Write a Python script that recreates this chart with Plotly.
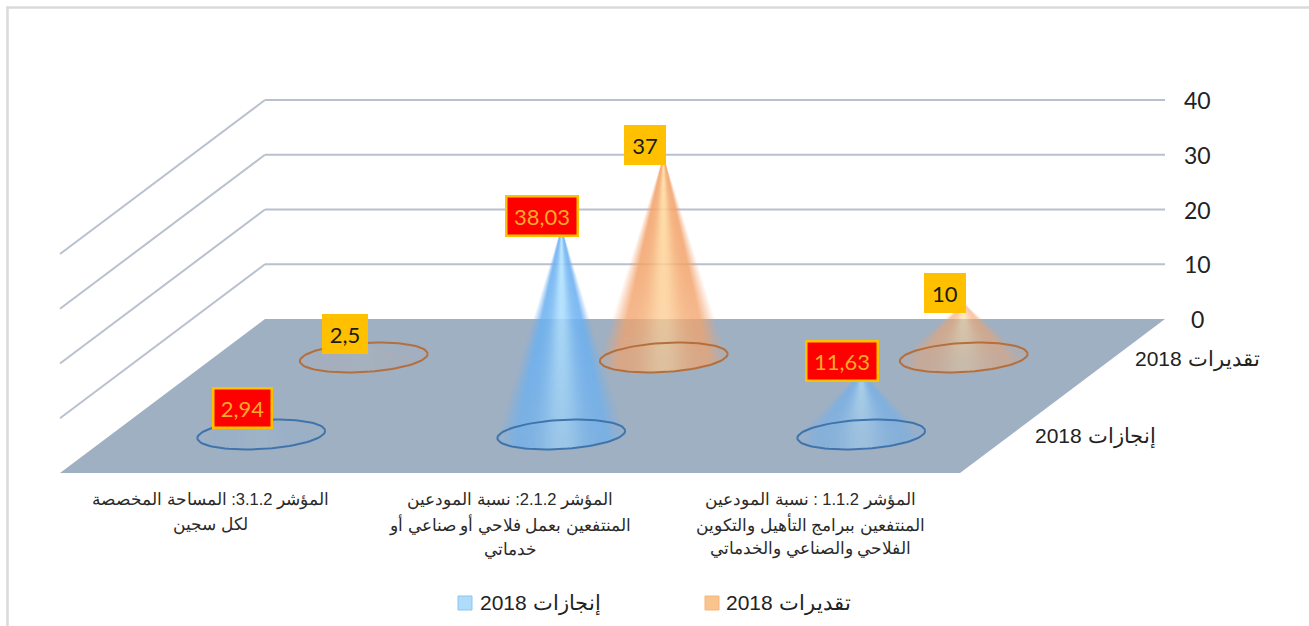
import numpy as np
import plotly.graph_objects as go

# ---------- data ----------
categories = [
    ["المؤشر 3.1.2: المساحة المخصصة", "لكل سجين"],
    ["المؤشر 2.1.2: نسبة المودعين", "المنتفعين بعمل فلاحي أو صناعي أو", "خدماتي"],
    ["المؤشر 1.1.2 : نسبة المودعين", "المنتفعين ببرامج التأهيل والتكوين", "الفلاحي والصناعي والخدماتي"],
]
series_names = ["إنجازات 2018", "تقديرات 2018"]
achieved_2018 = [2.94, 38.03, 11.63]
estimates_2018 = [2.5, 37, 10]
achieved_labels = ["2,94", "38,03", "11,63"]
estimates_labels = ["2,5", "37", "10"]
value_ticks = [0, 10, 20, 30, 40]

# ---------- 3D chart projection (category, depth, value) -> plot coordinates ----------
W, H = 1309, 626
ORIGIN = (60.0, 473.0)
CAT_W = 300.0
DEPTH = (205.0, -154.0)
VAL_PX = 5.475


def proj(c, d, v=0.0):
    return ORIGIN[0] + CAT_W * c + DEPTH[0] * d, ORIGIN[1] + DEPTH[1] * d - VAL_PX * v


ncat = len(categories)
nser = len(series_names)

shapes = []


def line_shape(p, q):
    shapes.append(dict(type="line", layer="below", x0=p[0], y0=p[1], x1=q[0], y1=q[1],
                       line=dict(color="#B9C1CE", width=2)))


# page frame
shapes.append(dict(type="path", layer="below", path=f"M7.5,{H} L7.5,7.5 L{W},7.5",
                   line=dict(color="#DADADA", width=2.5)))
# wall gridlines
for t in value_ticks[1:]:
    a, b, c = proj(0, 0, t), proj(0, 1, t), proj(ncat, 1, t)
    line_shape(a, b)
    line_shape(b, c)
# floor
pts = [proj(0, 0), proj(ncat, 0), proj(ncat, 1), proj(0, 1)]
shapes.append(dict(type="path", layer="below",
                   path="M" + " L".join(f"{x},{y}" for x, y in pts) + " Z",
                   fillcolor="#9FB0C3", line=dict(width=0)))

fig = go.Figure()

STYLES = [
    dict(edge=(108, 176, 240), mid=(180, 228, 255), line="#3F74AC", swatch="#AEDCFA", swline="#8FC4EC"),
    dict(edge=(242, 162, 106), mid=(255, 220, 160), line="#B56F3C", swatch="#F9C48E", swline="#F3B57A"),
]
ELL_A, ELL_B, TILT = 64.0, 14.5, np.deg2rad(-3.4)


def cone_rgba(value, st):
    """RGBA raster for a cone whose height comes from its value."""
    h = VAL_PX * value
    top = int(np.floor(-h)) - 1
    bottom = int(ELL_B) + 5
    xs = np.arange(-int(ELL_A) - 3, int(ELL_A) + 4)
    ys = np.arange(top, bottom + 1)
    X, Y = np.meshgrid(xs, ys)
    tt = np.clip((Y + h) / h, 1e-3, 1.0)
    half = ELL_A * tt
    r = np.abs(X) / half
    # cross section: bright centre, darker flanks, soft silhouette
    sil = np.clip((1.0 - r) / 0.30, 0, 1)
    mix = (np.exp(-(r / 0.32) ** 2) * (1 - 0.35 * tt))[..., None]
    rgb = np.array(st["edge"]) * (1 - mix) + np.array(st["mid"]) * mix
    strength = 0.88 * (value / 38.0) ** 0.3 * min(1.0, value / 10.0)
    fade = 1.0 - 0.22 * tt ** 3
    # lower rim: keep only what lies inside the base ellipse
    xr = X * np.cos(TILT) + Y * np.sin(TILT)
    yr = -X * np.sin(TILT) + Y * np.cos(TILT)
    ell = (xr / ELL_A) ** 2 + (yr / ELL_B) ** 2
    inside = ell <= 1.0
    below_axis = Y > 0
    shape = np.where(inside, np.maximum(sil, 0.30), sil)
    shape = np.where(below_axis & ~inside, 0.0, shape)
    alpha = strength * fade * shape
    out = np.dstack([rgb, alpha]).astype(float)
    return out, int(xs[0]), int(ys[0])


LABEL_W = {2: 27, 3: 31, 4: 46, 5: 59}


def add_series(values, labels, s_idx, name):
    st = STYLES[s_idx]
    depth = (s_idx + 0.5) / nser
    for i, v in enumerate(values):
        cx, cy = proj(i + 0.5, depth)
        rgba, dx0, dy0 = cone_rgba(v, st)
        fig.add_trace(go.Image(z=rgba, colormodel="rgba", x0=cx + dx0, y0=cy + dy0, dx=1, dy=1,
                               hoverinfo="skip", name=name))
        th = np.linspace(0, 2 * np.pi, 90)
        ex = ELL_A * np.cos(th)
        ey = ELL_B * np.sin(th)
        fig.add_trace(go.Scatter(
            x=cx + ex * np.cos(TILT) - ey * np.sin(TILT),
            y=cy + ex * np.sin(TILT) + ey * np.cos(TILT),
            mode="lines", line=dict(color=st["line"], width=2), hoverinfo="skip",
            showlegend=False, name=name))
        tx, ty = proj(i + 0.5, depth, v)
        is_ach = s_idx == 0
        fig.add_annotation(
            x=tx - 19, y=ty - 10, text=labels[i], showarrow=False,
            width=LABEL_W[len(labels[i])], height=27 if is_ach else 25,
            font=dict(family="Lato", size=22, color="#FFA928" if is_ach else "#1A1A1A"),
            bgcolor="#FF0000" if is_ach else "#FFC000",
            bordercolor="#FFC000", borderwidth=2.5, borderpad=5,
        )


add_series(estimates_2018, estimates_labels, 1, series_names[1])
add_series(achieved_2018, achieved_labels, 0, series_names[0])

# value axis labels
for t in value_ticks:
    x, y = proj(ncat, 1, t)
    fig.add_annotation(x=x + 32, y=y, text=str(t), showarrow=False,
                       font=dict(family="Lato", size=23, color="#222222"))

# depth axis labels
for s, name in enumerate(series_names):
    x, y = proj(ncat, (s + 0.5) / nser)
    fig.add_annotation(x=x + 84, y=y + 2, text=name, showarrow=False,
                       font=dict(family="Liberation Sans", size=21, color="#222222"))

# category labels
for i, lines in enumerate(categories):
    x, y = proj(i + 0.5, 0)
    for k, ln in enumerate(lines):
        fig.add_annotation(x=x, y=y + 27 + 24.5 * k, text=ln, showarrow=False,
                           font=dict(family="Liberation Sans", size=16.5, color="#2A2A2A"))

# legend
legend_items = [(1, 712.0, 724.0), (0, 465.0, 478.0)]
for s, lx, tx in legend_items:
    st = STYLES[s]
    shapes.append(dict(type="rect", layer="above", x0=lx - 7, x1=lx + 7, y0=596, y1=610,
                       fillcolor=st["swatch"], line=dict(color=st["swline"], width=1)))
    fig.add_annotation(x=tx, y=603, text=series_names[s], showarrow=False, xanchor="left",
                       font=dict(family="Liberation Sans", size=21, color="#222222"))

fig.update_layout(
    width=W, height=H, autosize=False, showlegend=False,
    margin=dict(l=0, r=0, t=0, b=0), paper_bgcolor="white", plot_bgcolor="white",
    xaxis=dict(range=[0, W], visible=False, fixedrange=True, constrain="domain"),
    yaxis=dict(range=[H, 0], visible=False, fixedrange=True),
    shapes=shapes,
)
fig.write_html("out.html", config=dict(displayModeBar=False),
               post_script="document.body.style.margin='0';document.documentElement.style.overflow='hidden';")
